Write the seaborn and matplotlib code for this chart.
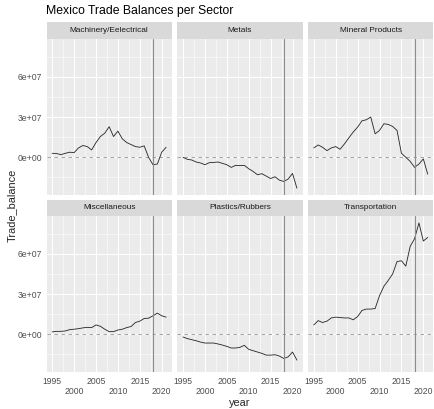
import numpy as np
import pandas as pd
import matplotlib
matplotlib.use("Agg")
import matplotlib.pyplot as plt
import seaborn as sns
from matplotlib.patches import Rectangle

# ---------------- data ----------------
years = list(range(1995, 2022))
sectors = ["Machinery/Eelectrical", "Metals", "Mineral Products",
           "Miscellaneous", "Plastics/Rubbers", "Transportation"]

machinery = [3.0e6, 2.8e6, 2.0e6, 3.0e6, 3.8e6, 3.5e6, 7.0e6, 8.8e6, 8.0e6, 5.5e6,
             11.0e6, 15.5e6, 18.0e6, 22.8e6, 15.5e6, 19.5e6, 13.8e6, 11.0e6, 9.5e6, 8.0e6,
             7.5e6, 8.5e6, 0.0, -5.5e6, -5.0e6, 3.8e6, 7.5e6]
metals = [0.0, -1.5e6, -2.0e6, -3.5e6, -4.2e6, -5.5e6, -4.0e6, -3.8e6, -3.5e6, -4.5e6,
          -5.5e6, -7.5e6, -6.0e6, -6.2e6, -6.0e6, -8.5e6, -10.5e6, -13.0e6, -12.2e6, -14.0e6,
          -15.8e6, -14.5e6, -17.0e6, -18.0e6, -16.2e6, -12.0e6, -23.0e6]
mineral = [7.0e6, 9.2e6, 7.5e6, 5.0e6, 7.0e6, 8.0e6, 6.0e6, 10.0e6, 14.5e6, 18.8e6,
           22.5e6, 27.2e6, 28.0e6, 30.0e6, 17.5e6, 20.0e6, 25.0e6, 24.5e6, 23.0e6, 20.0e6,
           3.0e6, 0.0, -3.0e6, -7.5e6, -5.0e6, -1.2e6, -12.5e6]
misc = [1.8e6, 2.2e6, 2.2e6, 2.5e6, 3.5e6, 3.8e6, 4.2e6, 4.8e6, 5.2e6, 5.0e6,
        7.0e6, 6.0e6, 3.8e6, 2.0e6, 2.0e6, 3.2e6, 3.8e6, 5.0e6, 5.8e6, 8.8e6,
        9.8e6, 11.8e6, 12.0e6, 13.8e6, 15.8e6, 13.8e6, 12.8e6]
plastics = [-2.0e6, -3.2e6, -4.0e6, -4.8e6, -5.8e6, -6.5e6, -6.5e6, -6.5e6, -7.2e6, -8.0e6,
            -9.0e6, -10.2e6, -10.2e6, -9.7e6, -8.2e6, -11.2e6, -12.2e6, -13.2e6, -14.2e6, -15.5e6,
            -15.5e6, -15.2e6, -16.2e6, -18.0e6, -16.8e6, -13.2e6, -19.2e6]
transport = [7.0e6, 10.2e6, 8.8e6, 9.8e6, 12.2e6, 12.8e6, 12.5e6, 12.2e6, 12.2e6, 10.8e6,
             13.2e6, 17.8e6, 18.8e6, 18.8e6, 19.2e6, 28.8e6, 35.8e6, 40.2e6, 45.0e6, 54.2e6,
             54.8e6, 50.8e6, 65.5e6, 71.2e6, 83.0e6, 69.5e6, 72.2e6]

vline_year = 2018
x_major = [1995, 2000, 2005, 2010, 2015, 2020]
x_labels = ["1995", "\n2000", "2005", "\n2010", "2015", "\n2020"]
y_major = [0, 3e7, 6e7]
y_labels = ["0e+00", "3e+07", "6e+07"]

series = [machinery, metals, mineral, misc, plastics, transport]
df = pd.DataFrame({
    "year": years * len(sectors),
    "Trade_balance": [v for s in series for v in s],
    "sector": [sec for sec in sectors for _ in years],
})

# ---------------- style ----------------
sns.set_style("white")
plt.rcParams["font.family"] = ["Liberation Sans", "DejaVu Sans"]

W, H = 434, 409
fig = plt.figure(figsize=(W / 72, H / 72), dpi=72)

col_left = [46.5, 177.3, 308.1]
pw = 125.3
rows = [(22.3, 38.8, 195.3), (199.8, 215.8, 372.3)]  # strip top, panel top, panel bottom

# limits with ggplot-like 5% expansion
xmin, xmax = min(years), max(years)
xr = xmax - xmin
xlim = (xmin - 0.05 * xr, xmax + 0.05 * xr)
ymin, ymax = df["Trade_balance"].min(), df["Trade_balance"].max()
yr = ymax - ymin
ylim = (ymin - 0.05 * yr, ymax + 0.05 * yr)

x_minor = [x + 2.5 for x in x_major[:-1]]
y_minor = [-1.5e7, 1.5e7, 4.5e7, 7.5e7]

for i, sec in enumerate(sectors):
    r, c = divmod(i, 3)
    stop, ptop, pbot = rows[r]
    l = col_left[c]
    ax = fig.add_axes([l / W, 1 - pbot / H, pw / W, (pbot - ptop) / H])
    ax.set_facecolor("#EBEBEB")
    for sp in ax.spines.values():
        sp.set_visible(False)
    ax.set_xlim(*xlim)
    ax.set_ylim(*ylim)
    ax.set_xticks(x_major)
    ax.set_xticks(x_minor, minor=True)
    ax.set_yticks(y_major)
    ax.set_yticks(y_minor, minor=True)
    ax.grid(which="major", color="white", lw=1.05)
    ax.grid(which="minor", color="white", lw=0.55)
    ax.set_axisbelow(True)

    ax.axhline(0, color="#A6A6A6", lw=1.0, ls=(0, (3.5, 3.5)), zorder=1.5)
    sub = df[df["sector"] == sec]
    sns.lineplot(data=sub, x="year", y="Trade_balance", color="#262626", lw=0.85,
                 ax=ax, zorder=3)
    ax.axvline(vline_year, color="#8C8C8C", lw=1.1, zorder=4)

    ax.tick_params(which="minor", length=0)
    ax.tick_params(which="major", length=2.75, width=0.6, color="#333333",
                   labelsize=8.6, labelcolor="#4D4D4D", pad=2.0)
    if c == 0:
        ax.set_yticklabels(y_labels)
    else:
        ax.tick_params(axis="y", which="major", length=0, labelleft=False)
    if r == 1:
        ax.set_xticklabels(x_labels, linespacing=1.15)
    else:
        ax.tick_params(axis="x", which="major", length=0, labelbottom=False)
    ax.set_xlabel("")
    ax.set_ylabel("")

    # strip
    fig.patches.append(Rectangle((l / W, 1 - ptop / H), pw / W, (ptop - stop) / H,
                                 transform=fig.transFigure, facecolor="#D9D9D9",
                                 edgecolor="none", zorder=0))
    fig.text((l + pw / 2) / W, 1 - (stop + ptop) / 2 / H, sec, fontsize=8.3,
             color="#1A1A1A", ha="center", va="center")

fig.text(46.5 / W, 1 - 11 / H, "Mexico Trade Balances per Sector", fontsize=12.2,
         ha="left", va="center", color="black")
fig.text((col_left[0] + col_left[2] + pw) / 2 / W, 1 - 403 / H, "year", fontsize=11,
         ha="center", va="center")
fig.text(12 / W, 1 - 205 / H, "Trade_balance", fontsize=11, rotation=90,
         ha="center", va="center")

fig.savefig("out.png", dpi=72)
